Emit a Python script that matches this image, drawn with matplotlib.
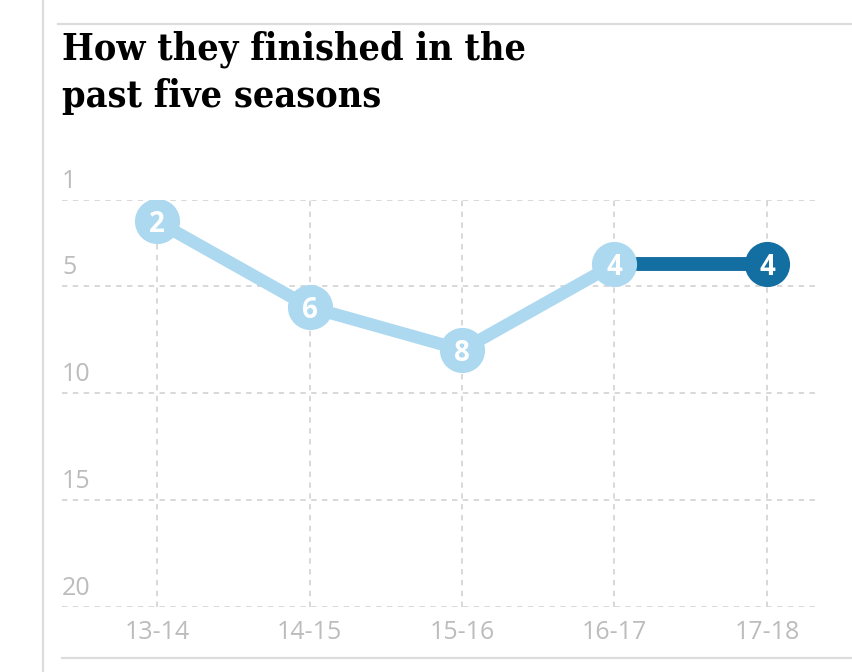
import matplotlib
matplotlib.use('Agg')
import matplotlib.pyplot as plt
from matplotlib.lines import Line2D
import matplotlib.transforms as mtransforms

# data
seasons = ['13-14', '14-15', '15-16', '16-17', '17-18']
positions = [2, 6, 8, 4, 4]
y_ticks = [1, 5, 10, 15, 20]
title = 'How they finished in the\npast five seasons'

LIGHT = '#acd8f0'
DARK = '#136fa1'
GRID = '#d6d6d6'
TICK = '#bcbcbc'

fig = plt.figure(figsize=(8.52, 6.72), dpi=100)
ax = fig.add_axes([0.0728, 0.0967, 0.8838, 0.6057])

x = list(range(len(seasons)))
ax.set_xlim(-0.623, 4.315)
ax.set_ylim(20, 1)

# grid
for yv in y_ticks:
    ax.axhline(yv, color=GRID, lw=1.3, ls=(0, (3, 3)), zorder=0)
for xv in x:
    ax.axvline(xv, color=GRID, lw=1.3, ls=(0, (3, 3)), zorder=0)

# past seasons light, latest season dark
ax.plot(x[:4], positions[:4], color=LIGHT, lw=9, solid_capstyle='round', zorder=2)
ax.plot(x[3:], positions[3:], color=DARK, lw=10, zorder=2)
ax.scatter(x[:4], positions[:4], s=32.5**2, color=LIGHT, zorder=3, linewidths=0)
ax.scatter(x[4:], positions[4:], s=32.5**2, color=DARK, zorder=3, linewidths=0)
for xi, yi in zip(x, positions):
    ax.text(xi, yi, str(yi), color='white', fontsize=20, fontweight='bold',
            family='Open Sans', ha='center', va='center_baseline', zorder=4)

for s in ax.spines.values():
    s.set_visible(False)
ax.set_xticks(x)
ax.set_xticklabels(seasons, color=TICK, fontsize=18, family='Open Sans')
ax.tick_params(axis='x', length=0, pad=9)
ax.set_yticks([])

# y labels sit just above their gridline
trans = mtransforms.offset_copy(ax.get_yaxis_transform(), fig=fig, y=6, units='dots')
for yv in y_ticks:
    ax.text(0, yv, str(yv), transform=trans, color=TICK, fontsize=18,
            family='Open Sans', ha='left', va='bottom')

# frame rules
fig.add_artist(Line2D([43 / 852, 43 / 852], [0, 1], color='#dcdcdc', lw=1.6))
fig.add_artist(Line2D([58 / 852, 1], [1 - 24 / 672] * 2, color='#dcdcdc', lw=1.6))
fig.add_artist(Line2D([62 / 852, 1], [1 - 658 / 672] * 2, color='#dcdcdc', lw=1.6))

fig.text(62 / 852, 1 - 107 / 672, title, fontsize=27, fontweight='bold',
         family='DejaVu Serif', fontstretch='condensed', va='baseline', ha='left',
         linespacing=1.36)

fig.savefig('out.png', dpi=100)
